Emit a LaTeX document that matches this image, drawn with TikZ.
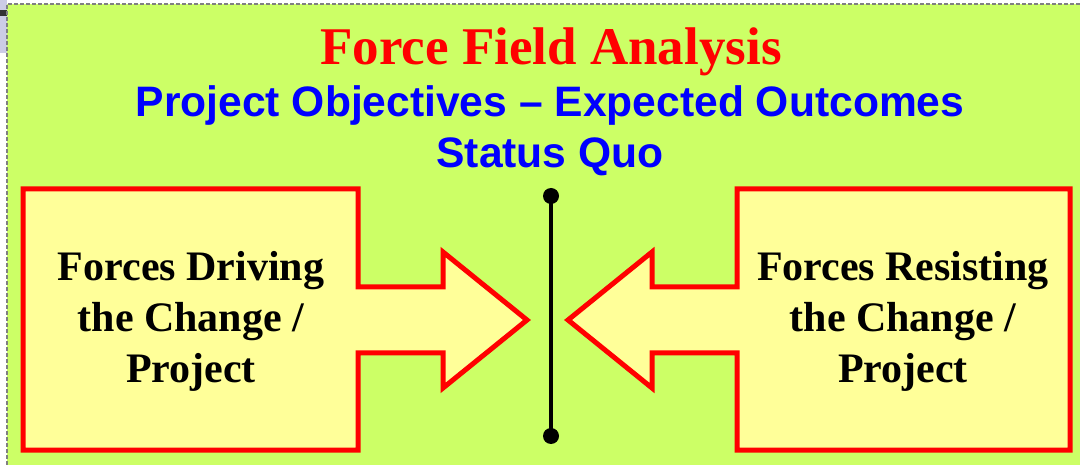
\documentclass[tikz,border=0pt]{standalone}
\usepackage{fontspec}
\setmainfont{Liberation Serif}
\setsansfont{Liberation Sans}
\definecolor{bggreen}{HTML}{CCFF66}
\definecolor{boxyellow}{HTML}{FFFF99}
\definecolor{sidepurple}{HTML}{CCCCE6}
\begin{document}
\begin{tikzpicture}[x=1pt,y=-1pt,
  forcearrow/.style={draw=red,fill=boxyellow,line width=5pt,miter limit=10},
  titletext/.style={text=red,font=\fontsize{53}{60}\selectfont\bfseries,anchor=base,inner sep=0},
  subtext/.style={text=blue,font=\sffamily\fontsize{42.6}{50}\selectfont\bfseries,anchor=base,inner sep=0},
  boxtext/.style={text=black,font=\fontsize{42}{51}\selectfont\bfseries,align=center,anchor=base,inner sep=0},
  dot/.style={circle,fill=black,inner sep=0,minimum size=16pt}]
\useasboundingbox (0,0) rectangle (1080,465);
% side artifacts
\fill[sidepurple] (0,0) rectangle (7,53);
\fill[white] (0,53) rectangle (7,465);
\fill[black!80] (0,10) rectangle (7,16);
% background
\fill[bggreen] (7,4) rectangle (1080,465);
\draw[gray,line width=1.5pt,dash pattern=on 4pt off 2pt] (7,465) -- (7,4) -- (1080,4);
% titles
\node[titletext] (title) at (551,65) {Force Field Analysis};
\node[subtext] (sub) at (550,117) {Project Objectives – Expected Outcomes};
\node[subtext] (quo) at (550,168) {Status Quo};
% left force arrow
\draw[forcearrow] (23,189) -- (358,189) -- (358,287) -- (443,287) -- (443,252)
  -- (527,320) -- (443,388) -- (443,353) -- (358,353) -- (358,450) -- (23,450) -- cycle;
% right force arrow
\draw[forcearrow] (1070,189) -- (737,189) -- (737,287) -- (652,287) -- (652,252)
  -- (568,320) -- (652,388) -- (652,353) -- (737,353) -- (737,450) -- (1070,450) -- cycle;
% box texts (anchor base = last line baseline)
\node[boxtext] (drive) at (191,382) {Forces Driving\\the Change /\\Project};
\node[boxtext] (resist) at (903,382) {Forces Resisting\\the Change /\\Project};
% status quo line
\node[dot] (top) at (551,196) {};
\node[dot] (bot) at (551,436) {};
\draw[black,line width=4pt] (top.center) -- (bot.center);
\end{tikzpicture}
\end{document}
